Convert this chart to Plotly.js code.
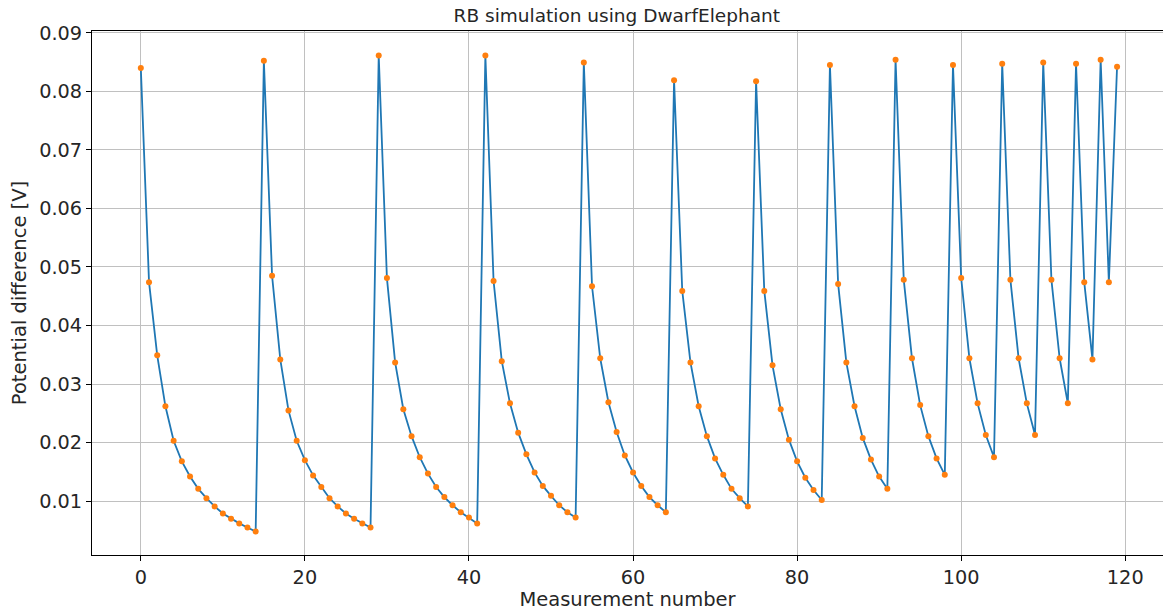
<!DOCTYPE html>
<html>
<head>
<meta charset="utf-8">
<script src="https://cdn.plot.ly/plotly-3.0.1.min.js"></script>
<style>
html, body { margin: 0; padding: 0; background: #fff; overflow: hidden; }
#chart { width: 1163px; height: 611px; }
</style>
</head>
<body>
<div id="chart"></div>
<script>
const measurementNumber = [
  0,1,2,3,4,5,6,7,8,9,10,11,12,13,14,15,16,17,18,19,
  20,21,22,23,24,25,26,27,28,29,30,31,32,33,34,35,36,37,38,39,
  40,41,42,43,44,45,46,47,48,49,50,51,52,53,54,55,56,57,58,59,
  60,61,62,63,64,65,66,67,68,69,70,71,72,73,74,75,76,77,78,79,
  80,81,82,83,84,85,86,87,88,89,90,91,92,93,94,95,96,97,98,99,
  100,101,102,103,104,105,106,107,108,109,110,111,112,113,114,115,116,117,118,119
];
const potentialDifference = [
  0.0840,0.0474,0.0349,0.0262,0.0203,0.0168,0.0142,0.0121,0.0105,0.0091,
  0.0079,0.0070,0.0062,0.0055,0.0048,0.0852,0.0485,0.0342,0.0255,0.0203,
  0.0170,0.0144,0.0124,0.0105,0.0091,0.0079,0.0070,0.0062,0.0055,0.0861,
  0.0481,0.0337,0.0257,0.0211,0.0175,0.0147,0.0124,0.0107,0.0093,0.0081,
  0.0072,0.0062,0.0861,0.0476,0.0339,0.0267,0.0217,0.0180,0.0149,0.0126,
  0.0109,0.0093,0.0081,0.0072,0.0849,0.0467,0.0344,0.0269,0.0218,0.0178,
  0.0149,0.0126,0.0107,0.0093,0.0081,0.0819,0.0459,0.0337,0.0262,0.0211,
  0.0173,0.0145,0.0121,0.0105,0.0091,0.0817,0.0459,0.0332,0.0257,0.0205,
  0.0168,0.0140,0.0119,0.0102,0.0845,0.0471,0.0337,0.0262,0.0208,0.0171,
  0.0142,0.0121,0.0854,0.0478,0.0344,0.0264,0.0211,0.0173,0.0145,0.0845,
  0.0481,0.0344,0.0267,0.0213,0.0175,0.0847,0.0478,0.0344,0.0267,0.0213,
  0.0849,0.0478,0.0344,0.0267,0.0847,0.0474,0.0342,0.0854,0.0474,0.0842
];
const xTickValues = [0, 20, 40, 60, 80, 100, 120];
const yTickValues = [0.01, 0.02, 0.03, 0.04, 0.05, 0.06, 0.07, 0.08, 0.09];
const yTickLabels = ["0.01","0.02","0.03","0.04","0.05","0.06","0.07","0.08","0.09"];

const FONT = "DejaVu Sans, sans-serif";

const traces = [
  {
    x: measurementNumber, y: potentialDifference,
    type: "scatter", mode: "lines",
    line: { color: "#1f77b4", width: 1.8 },
    hoverinfo: "skip", showlegend: false
  },
  {
    x: measurementNumber, y: potentialDifference,
    type: "scatter", mode: "markers",
    marker: { color: "#ff7f0e", size: 6, line: { width: 0 } },
    showlegend: false
  }
];

const layout = {
  width: 1163, height: 611,
  margin: { l: 92, r: 0, t: 31, b: 56, pad: 0 },
  paper_bgcolor: "#ffffff", plot_bgcolor: "#ffffff",
  font: { family: FONT, color: "#262626" },
  title: {
    text: "RB simulation using DwarfElephant",
    font: { family: FONT, size: 18.5, color: "#262626" },
    x: 0.49, xanchor: "center", xref: "paper",
    y: 0.975, yanchor: "middle", yref: "container"
  },
  xaxis: {
    range: [-5.95, 124.6],
    tickmode: "array", tickvals: xTickValues,
    ticks: "outside", ticklen: 5, tickwidth: 1, tickcolor: "#000",
    tickfont: { family: FONT, size: 19.3, color: "#262626" },
    showgrid: true, gridcolor: "#c0c0c0", gridwidth: 1,
    zeroline: false, showline: true, linecolor: "#000", linewidth: 1, mirror: true,
    title: { text: "Measurement number", font: { family: FONT, size: 19.5, color: "#262626" }, standoff: 5 }
  },
  yaxis: {
    range: [0.0008, 0.0903],
    tickmode: "array", tickvals: yTickValues, ticktext: yTickLabels,
    ticks: "outside", ticklen: 5, tickwidth: 1, tickcolor: "#000",
    tickfont: { family: FONT, size: 19.3, color: "#262626" },
    showgrid: true, gridcolor: "#c0c0c0", gridwidth: 1,
    zeroline: false, showline: true, linecolor: "#000", linewidth: 1, mirror: true,
    title: { text: "Potential difference [V]", font: { family: FONT, size: 19.5, color: "#262626" }, standoff: 7 }
  }
};

Plotly.newPlot("chart", traces, layout, { staticPlot: true, displayModeBar: false });
</script>
</body>
</html>
